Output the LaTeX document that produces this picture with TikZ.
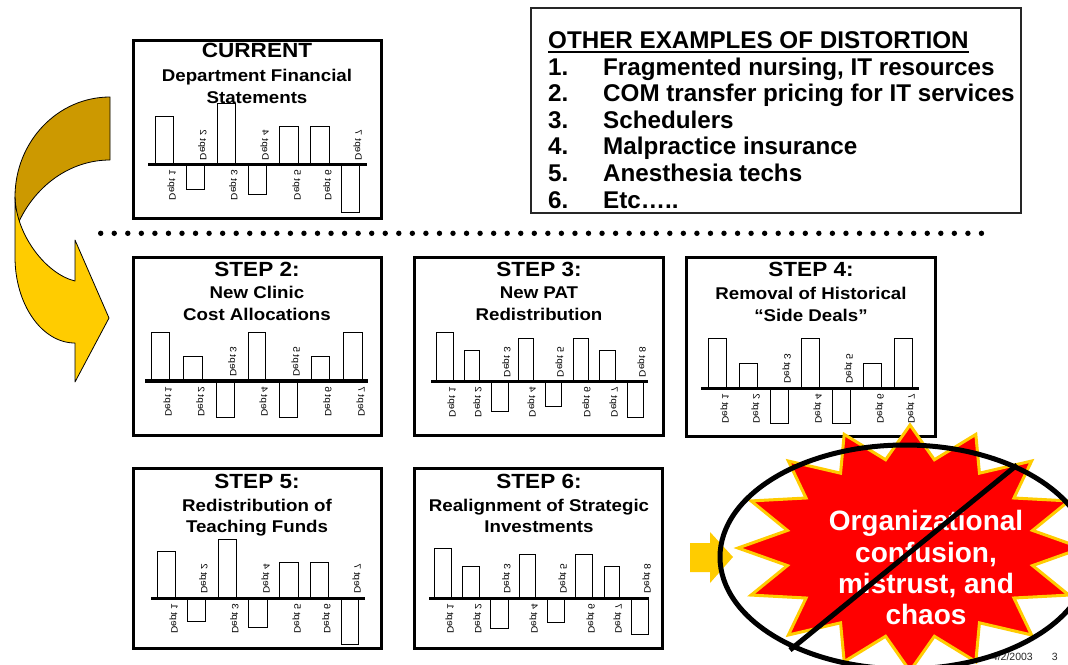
\documentclass[tikz,border=0pt]{standalone}
\usepackage{fontspec}
\setmainfont{Liberation Sans}
\usepackage{graphicx}
\definecolor{gold}{HTML}{FFCC00}
\definecolor{darkgold}{HTML}{CC9900}
\definecolor{burstred}{HTML}{FF0000}
% horizontally widened text used inside the chart panels
\newcommand{\wideTxt}[1]{\scalebox{1.1}[1]{#1}}
% one bar chart: #1 name prefix, #2/#3 axis ends, #4 axis height, #5 bars xl/xr/h/n
\newcommand{\deptchart}[5]{%
  \foreach \xl/\xr/\h/\n in {#5}{%
    \pgfmathsetmacro{\yt}{#4-(\h)}%
    \pgfmathsetmacro{\ly}{#4+((\h)>0 ? 20.5 : -19.5)}%
    \draw[barbox] (\xl,#4) rectangle (\xr,\yt);
    \node[deptlbl] (#1-dept\n) at (\xr-1.5,\ly) {\scalebox{1.1}[-1]{Dept \n}};
  }
  \draw[axisline] (#2,#4) -- (#3,#4);
}
\begin{document}
\begin{tikzpicture}[x=1pt,y=-1pt,
  chartframe/.style={draw=black,line width=3pt,fill=white},
  barbox/.style={draw=black,line width=1pt,fill=white},
  axisline/.style={draw=black,line width=3.2pt},
  deptlbl/.style={rotate=90,inner sep=0pt,font=\fontsize{9.2}{10}\selectfont},
  steptitle/.style={anchor=base,inner sep=0pt,font=\bfseries\fontsize{20.5}{22}\selectfont},
  stepsub/.style={anchor=base,inner sep=0pt,font=\bfseries\fontsize{17}{19}\selectfont},
  listframe/.style={draw=black!85,line width=1.5pt,fill=white},
  listtext/.style={anchor=base west,inner sep=0pt,font=\bfseries\fontsize{24.2}{27}\selectfont},
  sepdot/.style={fill=black},
  turnarrow/.style={draw=black,line width=0.8pt,line join=round},
  starburst/.style={fill=burstred,draw=gold,line width=3pt,line join=miter},
  bursttext/.style={anchor=base,inner sep=0pt,text=white,font=\bfseries\fontsize{28}{30}\selectfont},
  noring/.style={draw=black,line width=5pt},
  blockarrow/.style={fill=gold},
  footer/.style={anchor=base east,inner sep=0pt,text=black!85,font=\fontsize{10.5}{12}\selectfont}
]
\useasboundingbox (0,0) rectangle (1068,664);
\fill[white] (0,0) rectangle (1068,664);

% ---------- chart panels ----------
\draw[chartframe] (133,40) rectangle (381,218);
\node[steptitle] (cur-t) at (257,57) {\wideTxt{CURRENT}};
\node[stepsub] (cur-s1) at (257,81) {\wideTxt{Department Financial}};
\node[stepsub] (cur-s2) at (257,103) {\wideTxt{Statements}};
\deptchart{cur}{148}{367}{164.7}{155/173/48.7/1,186/204/-25/2,217/235/61/3,248/266/-30/4,279/298/38/5,310/329/38/6,341/359/-48/7}

\draw[chartframe] (133,257) rectangle (381,435);
\node[steptitle] (s2-t) at (257,276) {\wideTxt{STEP 2:}};
\node[stepsub] (s2-s1) at (257,298) {\wideTxt{New Clinic}};
\node[stepsub] (s2-s2) at (257,320) {\wideTxt{Cost Allocations}};
\deptchart{s2}{145}{368}{381}{151/169/49/1,183/202/25/2,216/234/-36/3,248/265/49/4,279/297/-36/5,311/329/25/6,343/362/49/7}

\draw[chartframe] (414,257) rectangle (663,435);
\node[steptitle] (s3-t) at (539,276) {\wideTxt{STEP 3:}};
\node[stepsub] (s3-s1) at (539,298) {\wideTxt{New PAT}};
\node[stepsub] (s3-s2) at (539,320) {\wideTxt{Redistribution}};
\deptchart{s3}{431}{648}{381.7}{436/453/49/1,464/479/31/2,491/508/-30/3,518/533/43/4,545/561/-25/5,573/588/43/6,599/615/31/7,627/643/-36/8}

\draw[chartframe] (686,257) rectangle (935,436);
\node[steptitle] (s4-t) at (811,276) {\wideTxt{STEP 4:}};
\node[stepsub] (s4-s1) at (811,299) {\wideTxt{Removal of Historical}};
\node[stepsub] (s4-s2) at (811,321) {\wideTxt{“Side Deals”}};
\deptchart{s4}{701}{919}{388.3}{708/726/50/1,739/757/25/2,770/788/-35/3,801/819/50/4,832/850/-35/5,863/881/25/6,894/912/50/7}

\draw[chartframe] (133,468) rectangle (381,648);
\node[steptitle] (s5-t) at (257,488.5) {\wideTxt{STEP 5:}};
\node[stepsub] (s5-s1) at (257,511) {\wideTxt{Redistribution of}};
\node[stepsub] (s5-s2) at (257,532) {\wideTxt{Teaching Funds}};
\deptchart{s5}{151}{365}{598.3}{157/175/47/1,187/205/-23/2,218/236/59/3,248/267/-29/4,279/298/36/5,310/328/36/6,341/358/-46/7}

\draw[chartframe] (414,468) rectangle (662,648);
\node[steptitle] (s6-t) at (539,488.5) {\wideTxt{STEP 6:}};
\node[stepsub] (s6-s1) at (539,511) {\wideTxt{Realignment of Strategic}};
\node[stepsub] (s6-s2) at (539,532) {\wideTxt{Investments}};
\deptchart{s6}{429}{649}{598.3}{434/451/50/1,462/479/32/2,490/508/-30/3,519/535/44/4,547/564/-24/5,575/592/44/6,604/619/32/7,631/648/-36/8}

% ---------- list of other examples ----------
\draw[listframe] (531,8) rectangle (1021,213);
\node[listtext] (head) at (548,48.5) {OTHER EXAMPLES OF DISTORTION};
\draw[line width=1.7pt] ([yshift=-3.6pt]head.base west) -- ([yshift=-3.6pt]head.base east);
\node[listtext] (n1) at (548,75) {1.};
\node[listtext] (i1) at (603,75) {Fragmented nursing, IT resources};
\node[listtext] (n2) at (548,101.6) {2.};
\node[listtext] (i2) at (603,101.6) {COM transfer pricing for IT services};
\node[listtext] (n3) at (548,128.2) {3.};
\node[listtext] (i3) at (603,128.2) {Schedulers};
\node[listtext] (n4) at (548,154.8) {4.};
\node[listtext] (i4) at (603,154.8) {Malpractice insurance};
\node[listtext] (n5) at (548,181.4) {5.};
\node[listtext] (i5) at (603,181.4) {Anesthesia techs};
\node[listtext] (n6) at (548,208) {6.};
\node[listtext] (i6) at (603,208) {Etc…..};

% ---------- dotted separator ----------
\foreach \i in {0,...,65} \fill[sepdot] ({100.7+13.55*\i},233.3) circle[radius=2.7];

% ---------- U-turn arrow ----------
\filldraw[turnarrow,fill=darkgold]
  (110,97) arc[start angle=-90,end angle=-180,x radius=95,y radius=100]
  -- (17,226) .. controls (34,186) and (70,160) .. (110,160) -- cycle;
\filldraw[turnarrow,fill=gold]
  (15,197) -- (15,257) arc[start angle=180,end angle=90,x radius=60,y radius=86]
  -- (75,382) -- (109,318) -- (75,240) -- (75,281)
  .. controls (46,274) and (16,235) .. (15,197) -- cycle;

% ---------- footer ----------
\node[footer] (date) at (1033,660) {4/2/2003};
\node[footer] (page) at (1058,660) {3};

% ---------- outcome burst ----------
\begin{scope}
\clip (0,0) rectangle (1068,664);
\fill[blockarrow] (690,543) -- (710,543) -- (710,532) -- (733,557) -- (710,583) -- (710,572) -- (690,572) -- cycle;
\draw[starburst] plot[samples at={0,...,31}]
  ({910+(mod(\x,2)==0 ? 172 : 125)*cos(90+11.25*\x)},{548-(mod(\x,2)==0 ? 123 : 90)*sin(90+11.25*\x)}) -- cycle;
\node[bursttext] (b1) at (926,530) {Organizational};
\node[bursttext] (b2) at (926,562.7) {confusion,};
\node[bursttext] (b3) at (926,593.5) {mistrust, and};
\node[bursttext] (b4) at (926,624.5) {chaos};
\draw[noring] (905,557) ellipse[x radius=185,y radius=112];
\coordinate (slashA) at (790,650);
\coordinate (slashB) at (1017,465);
\draw[noring] (slashA) -- (slashB);
\end{scope}
\end{tikzpicture}
\end{document}
